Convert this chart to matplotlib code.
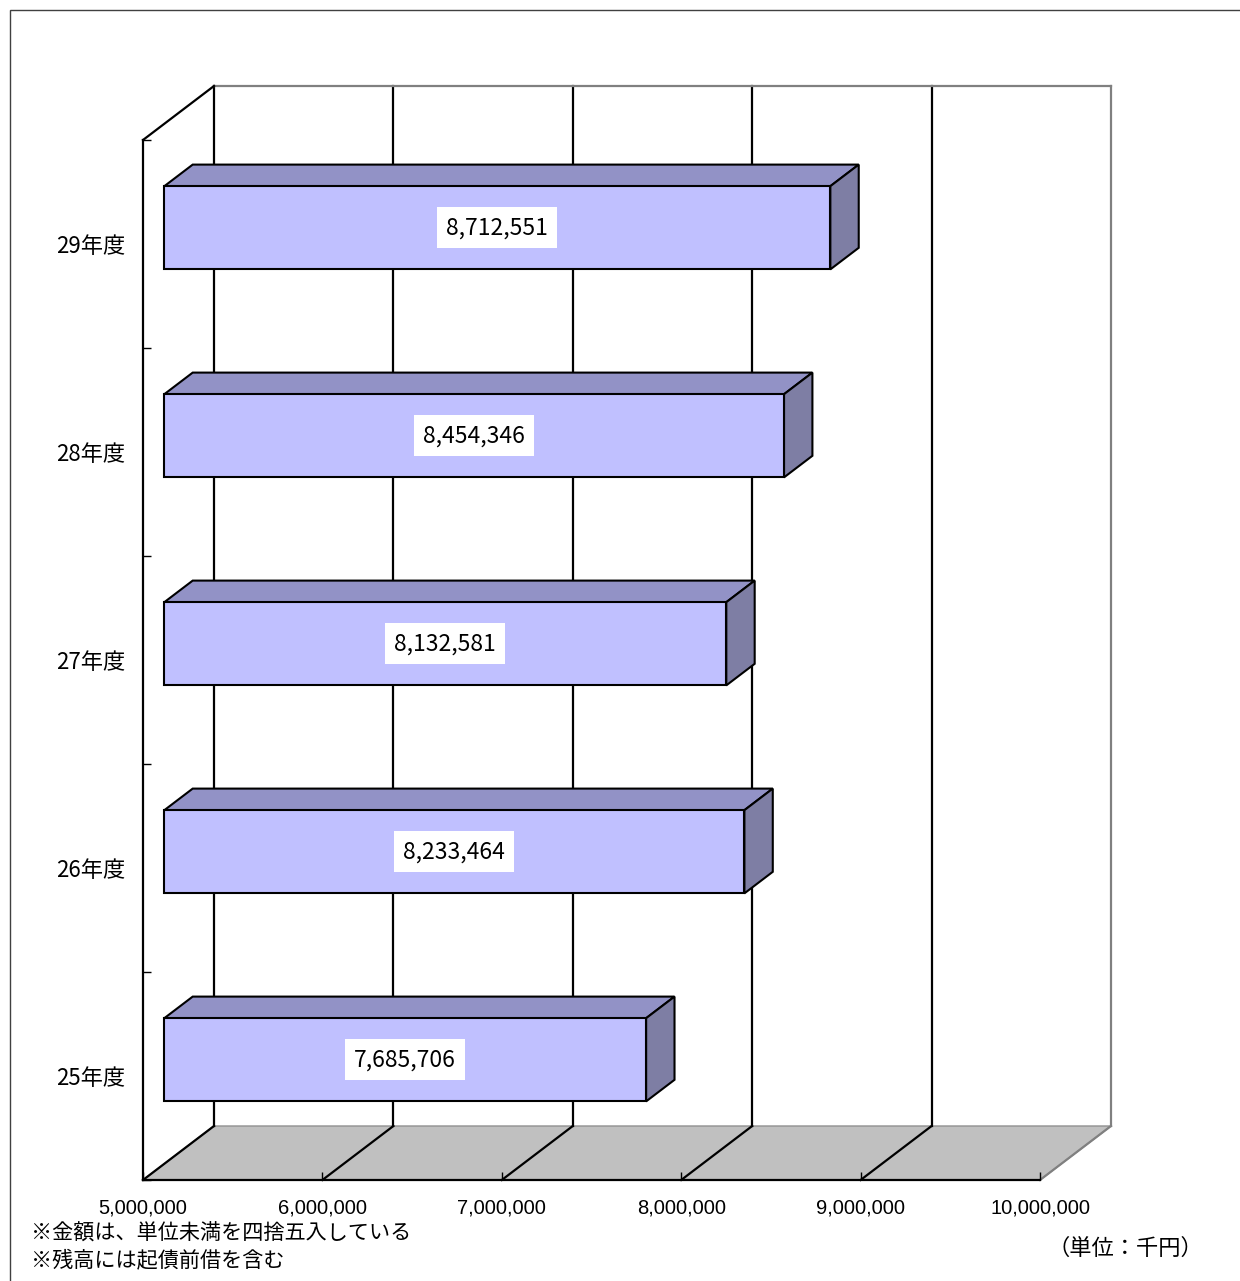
"""
Outstanding balance by fiscal year, Excel-style 3D horizontal bar chart.
"""
import numpy as np
import matplotlib
matplotlib.use("Agg")
import matplotlib.pyplot as plt
from matplotlib.patches import Polygon, Rectangle
from matplotlib.transforms import IdentityTransform
from matplotlib.ticker import FuncFormatter

plt.rcParams["font.family"] = ["Noto Sans CJK JP", "DejaVu Sans"]

# data
years = ["25年度", "26年度", "27年度", "28年度", "29年度"]
balances = [7685706, 8233464, 8132581, 8454346, 8712551]
x_ticks = [5000000, 6000000, 7000000, 8000000, 9000000, 10000000]
notes = ["※金額は、単位未満を四捨五入している", "※残高には起債前借を含む"]
unit_label = "（単位：千円）"

# styling
FRONT = "#C0C0FF"
TOP = "#9292C6"
SIDE = "#7E7EA4"
FLOOR = "#C0C0C0"
DX, DY = 71, 54          # full depth offset in pixels
BAR_D0, BAR_D1 = 0.3, 0.7
BAR_HALF = 0.2

fig = plt.figure(figsize=(12.4, 12.81), dpi=100)
W, H = 1240, 1281
# front plane of the 3D box
ax = fig.add_axes([143 / W, 1 - 1180 / H, 897 / W, 1040 / H])
ax.set_xlim(x_ticks[0], x_ticks[-1])
ax.set_ylim(-0.5, len(years) - 0.5)
ax.patch.set_visible(False)
for s in ["top", "right"]:
    ax.spines[s].set_visible(False)
for s in ["left", "bottom"]:
    ax.spines[s].set_linewidth(1.6)
    ax.spines[s].set_zorder(3)

ax.set_xticks(x_ticks)
ax.xaxis.set_major_formatter(FuncFormatter(lambda v, p: f"{int(v):,}"))
ax.tick_params(axis="x", direction="in", length=6, width=1, pad=13,
               labelsize=14.5, labelfontfamily="Liberation Sans")
ax.set_yticks(range(len(years)))
ax.set_yticklabels(years)
ax.set_yticks(np.arange(-0.5, len(years)), minor=True)
ax.tick_params(axis="y", which="major", length=0, pad=13, labelsize=16)
ax.tick_params(axis="y", which="minor", direction="in", length=6, width=1)

fig.canvas.draw()


def proj(v, c, d):
    x, y = ax.transData.transform((v, c))
    return (x + d * DX, y + d * DY)


def poly(pts, **kw):
    p = Polygon(pts, closed=True, transform=IdentityTransform(), clip_on=False, **kw)
    ax.add_artist(p)


def line(p0, p1, color="black", lw=1.6, z=1):
    ax.add_artist(plt.Line2D([p0[0], p1[0]], [p0[1], p1[1]], color=color, lw=lw,
                             transform=IdentityTransform(), clip_on=False, zorder=z))


v0, v1 = x_ticks[0], x_ticks[-1]
c0, c1 = -0.5, len(years) - 0.5

# floor
poly([proj(v0, c0, 0), proj(v1, c0, 0), proj(v1, c0, 1), proj(v0, c0, 1)],
     facecolor=FLOOR, edgecolor="#909090", lw=1, zorder=0.5)
for v in x_ticks:
    col = "#808080" if v == v1 else "black"
    line(proj(v, c0, 0), proj(v, c0, 1), color=col, z=1)
    line(proj(v, c0, 1), proj(v, c1, 1), color=col, z=1)
line(proj(v0, c1, 1), proj(v1, c1, 1), color="#808080", z=1)
line(proj(v0, c1, 0), proj(v0, c1, 1), z=1)

# bars
for i, val in enumerate(balances):
    lo, hi = i - BAR_HALF, i + BAR_HALF
    poly([proj(v0, hi, BAR_D0), proj(val, hi, BAR_D0), proj(val, hi, BAR_D1), proj(v0, hi, BAR_D1)],
         facecolor=TOP, edgecolor="black", lw=1.5, zorder=2)
    poly([proj(val, lo, BAR_D0), proj(val, lo, BAR_D1), proj(val, hi, BAR_D1), proj(val, hi, BAR_D0)],
         facecolor=SIDE, edgecolor="black", lw=1.5, zorder=2)
    poly([proj(v0, lo, BAR_D0), proj(val, lo, BAR_D0), proj(val, hi, BAR_D0), proj(v0, hi, BAR_D0)],
         facecolor=FRONT, edgecolor="black", lw=1.5, zorder=2.1)
    cx = (proj(v0, i, BAR_D0)[0] + proj(val, i, BAR_D0)[0]) / 2
    cy = proj(v0, i, BAR_D0)[1]
    ax.text(cx, cy, f"{val:,}", transform=IdentityTransform(), ha="center", va="center",
            fontsize=16.5, zorder=4,
            bbox=dict(boxstyle="square,pad=0.4", facecolor="white", edgecolor="none"))

# outer frame
fig.add_artist(Rectangle((10 / W, -0.1), 1.2, 1.1 - 10 / H, transform=fig.transFigure,
                         fill=False, edgecolor="#404040", lw=1))

# notes
for k, t in enumerate(notes):
    fig.text(31 / W, 1 - (1234 + 26 * k) / H, t, ha="left", va="center", fontsize=15.2)
fig.text(1125 / W, 1 - 1248 / H, unit_label, ha="center", va="center", fontsize=16)

fig.savefig("out.png", dpi=100)
